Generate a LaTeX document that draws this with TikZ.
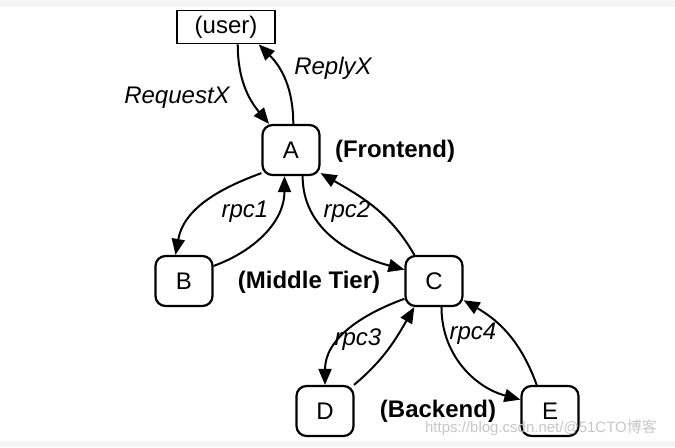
\documentclass[tikz,border=0pt]{standalone}
\usepackage{fontspec}
\setmainfont{Liberation Sans}
\newfontfamily\cjkfont{Noto Sans CJK SC}
\usetikzlibrary{arrows.meta}

\tikzset{
  tier/.style={draw, line width=1.1pt, rounded corners=5pt, minimum width=28.5pt, minimum height=25pt, inner sep=0pt},
  call/.style={-{Triangle[length=8pt,width=6.5pt]}, line width=1pt},
  rpc/.style={font=\fontsize{12}{14}\selectfont\itshape},
  tiername/.style={font=\fontsize{12}{14}\selectfont\bfseries}
}

\begin{document}
\begin{tikzpicture}[x=0.5pt,y=-0.5pt,font=\fontsize{12}{14}\selectfont]
\useasboundingbox (0,0) rectangle (675,447);
\fill[white] (0,0) rectangle (675,447);
\fill[black!4] (0,0) rectangle (675,7);
\fill[black!4] (0,441) rectangle (675,447);

% services
\node[draw, line width=0.9pt, minimum width=49pt, minimum height=16.5pt, inner sep=0pt] (user) at (226,27) {(user)};
\node[tier] (A) at (291,150) {A};
\node[tier] (B) at (184,281) {B};
\node[tier] (C) at (434,281) {C};
\node[tier] (D) at (325,411) {D};
\node[tier] (E) at (550,411) {E};

% tiers
\node[tiername] (front) at (395,151) {(Frontend)};
\node[tiername] (middle) at (309,282) {(Middle Tier)};
\node[tiername] (back) at (438,411) {(Backend)};

% calls
\draw[call] (user.-56) to[out=-90,in=130] (A.130);
\draw[call] (A.85) to[out=90,in=-45] (user.-28);
\draw[call] (A.218) to[out=200,in=80] (B.108);
\draw[call] (B.27) to[out=20,in=-90] (A.-104);
\draw[call] (A.-66) to[out=-90,in=165] (C.159);
\draw[call] (C.127) to[out=120,in=-30] (A.-38);
\draw[call] (C.211) to[out=200,in=90] (D.north);
\draw[call] (D.42) to[out=40,in=-120] (C.-127);
\draw[call] (C.-74) to[out=-90,in=165] (E.159);
\draw[call] (E.117) to[out=110,in=-30] (C.-33);

\node[rpc] (req) at (177,98) {RequestX};
\node[rpc] (rep) at (333,68) {ReplyX};
\node[rpc] (rpc1) at (245,212) {rpc1};
\node[rpc] (rpc2) at (347,212) {rpc2};
\node[rpc] (rpc3) at (358,340) {rpc3};
\node[rpc] (rpc4) at (473,334) {rpc4};

\node[text=black!22, font=\fontsize{7.5}{9}\selectfont] (mark) at (541,428) {https://blog.csdn.net/@51CTO{\cjkfont 博客}};
\end{tikzpicture}
\end{document}
